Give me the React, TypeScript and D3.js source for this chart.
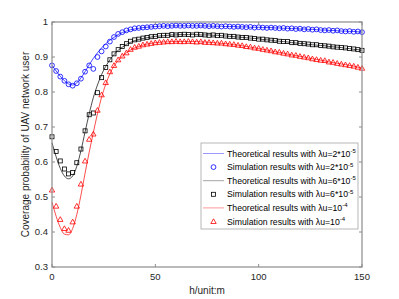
import * as d3 from "d3";

// sample heights (m), one marker every 2 m
const heights = d3.range(0, 151, 2);

// theoretical curves
const theoryBlue = [
  0.876, 0.86, 0.845, 0.832, 0.823, 0.82, 0.826, 0.84, 0.858, 0.878,
  0.896, 0.912, 0.926, 0.938, 0.948, 0.956, 0.964, 0.97, 0.974, 0.978,
  0.98, 0.982, 0.984, 0.985, 0.986, 0.987, 0.988, 0.988, 0.989, 0.989,
  0.989, 0.989, 0.989, 0.989, 0.989, 0.989, 0.989, 0.989, 0.988, 0.988,
  0.988, 0.988, 0.987, 0.987, 0.987, 0.986, 0.986, 0.986, 0.985, 0.985,
  0.985, 0.984, 0.984, 0.984, 0.983, 0.983, 0.982, 0.982, 0.981, 0.981,
  0.98, 0.98, 0.979, 0.979, 0.978, 0.977, 0.977, 0.976, 0.976, 0.975,
  0.974, 0.974, 0.973, 0.973, 0.972, 0.971,
];
const theoryBlack = [
  0.655, 0.615, 0.582, 0.56, 0.552, 0.56, 0.588, 0.632, 0.686, 0.738,
  0.784, 0.82, 0.85, 0.873, 0.892, 0.907, 0.919, 0.928, 0.936, 0.942,
  0.947, 0.95, 0.953, 0.955, 0.957, 0.959, 0.96, 0.961, 0.962, 0.963,
  0.963, 0.964, 0.964, 0.964, 0.964, 0.964, 0.963, 0.963, 0.963, 0.962,
  0.962, 0.961, 0.96, 0.959, 0.958, 0.957, 0.956, 0.955, 0.954, 0.953,
  0.952, 0.95, 0.949, 0.948, 0.946, 0.945, 0.944, 0.943, 0.941, 0.94,
  0.939, 0.938, 0.936, 0.935, 0.934, 0.933, 0.932, 0.93, 0.929, 0.928,
  0.927, 0.925, 0.924, 0.922, 0.921, 0.919,
];
const theoryRed = [
  0.485, 0.445, 0.413, 0.394, 0.392, 0.41, 0.45, 0.505, 0.568, 0.628,
  0.684, 0.738, 0.785, 0.822, 0.852, 0.874, 0.89, 0.902, 0.912, 0.92,
  0.926, 0.93, 0.934, 0.937, 0.939, 0.941, 0.942, 0.943, 0.943, 0.944,
  0.944, 0.944, 0.944, 0.944, 0.944, 0.944, 0.943, 0.943, 0.942, 0.941,
  0.94, 0.939, 0.938, 0.937, 0.935, 0.934, 0.932, 0.93, 0.928, 0.926,
  0.924, 0.922, 0.92, 0.917, 0.915, 0.913, 0.911, 0.908, 0.906, 0.904,
  0.902, 0.9, 0.897, 0.895, 0.893, 0.891, 0.889, 0.886, 0.884, 0.882,
  0.88, 0.878, 0.876, 0.874, 0.871, 0.868,
];

// simulation markers
const simBlue = [
  0.876, 0.86, 0.844, 0.832, 0.822, 0.818, 0.825, 0.838, 0.858, 0.876,
  0.866, 0.9, 0.916, 0.93, 0.944, 0.957, 0.966, 0.971, 0.976, 0.979,
  0.982, 0.983, 0.984, 0.985, 0.986, 0.987, 0.988, 0.989, 0.988, 0.989,
  0.99, 0.989, 0.989, 0.99, 0.989, 0.989, 0.99, 0.989, 0.988, 0.989,
  0.988, 0.987, 0.988, 0.987, 0.986, 0.987, 0.986, 0.985, 0.986, 0.984,
  0.985, 0.984, 0.983, 0.984, 0.983, 0.982, 0.983, 0.981, 0.982, 0.98,
  0.981, 0.979, 0.98, 0.978, 0.979, 0.977, 0.976, 0.977, 0.975, 0.976,
  0.974, 0.973, 0.974, 0.972, 0.973, 0.971,
];
const simBlack = [
  0.672, 0.63, 0.603, 0.58, 0.566, 0.57, 0.598, 0.637, 0.689, 0.735,
  0.74, 0.798, 0.841, 0.87, 0.892, 0.909, 0.921, 0.93, 0.938, 0.945,
  0.949, 0.951, 0.954, 0.956, 0.958, 0.959, 0.961, 0.962, 0.962, 0.964,
  0.963, 0.964, 0.965, 0.964, 0.963, 0.965, 0.964, 0.963, 0.962, 0.963,
  0.961, 0.962, 0.96, 0.959, 0.959, 0.957, 0.956, 0.956, 0.954, 0.953,
  0.951, 0.951, 0.949, 0.948, 0.947, 0.945, 0.944, 0.944, 0.941, 0.941,
  0.939, 0.938, 0.937, 0.935, 0.935, 0.933, 0.932, 0.931, 0.929, 0.928,
  0.927, 0.926, 0.924, 0.923, 0.921, 0.919,
];
const simRed = [
  0.52, 0.474, 0.436, 0.41, 0.405, 0.429, 0.474, 0.537, 0.603, 0.665,
  0.68, 0.748, 0.792, 0.827, 0.858, 0.876, 0.892, 0.903, 0.912, 0.922,
  0.928, 0.931, 0.935, 0.937, 0.939, 0.941, 0.942, 0.943, 0.944, 0.944,
  0.945, 0.944, 0.944, 0.945, 0.944, 0.943, 0.944, 0.942, 0.942, 0.941,
  0.94, 0.94, 0.938, 0.937, 0.936, 0.934, 0.933, 0.93, 0.929, 0.926,
  0.925, 0.922, 0.92, 0.918, 0.915, 0.914, 0.911, 0.909, 0.906, 0.905,
  0.902, 0.9, 0.898, 0.895, 0.893, 0.891, 0.89, 0.886, 0.885, 0.882,
  0.88, 0.878, 0.876, 0.874, 0.871, 0.868,
];

const xTicks = [0, 50, 100, 150];
const yTicks = [0.3, 0.4, 0.5, 0.6, 0.7, 0.8, 0.9, 1];

const legendLabels = [
  { text: "Theoretical results with λu=2*10", sup: "-5" },
  { text: "Simulation results with λu=2*10", sup: "-5" },
  { text: "Theoretical results with λu=6*10", sup: "-5" },
  { text: "Simulation results with λu=6*10", sup: "-5" },
  { text: "Theoretical results with λu=10", sup: "-4" },
  { text: "Simulation results with λu=10", sup: "-4" },
];

const W = 399;
const H = 299;
const m = { left: 52, right: 37, top: 22, bottom: 32 };
const font = "'Liberation Sans', Arial, sans-serif";
const axisColor = "#8c8c8c";
const textColor = "#262626";

type Shape = "circle" | "square" | "triangle";

function Marker({ shape, x, y, color }: { shape: Shape; x: number; y: number; color: string }) {
  if (shape === "circle")
    return <circle cx={x} cy={y} r={2.4} fill="none" stroke={color} strokeWidth={0.8} />;
  if (shape === "square")
    return <rect x={x - 2} y={y - 2} width={4} height={4} fill="none" stroke={color} strokeWidth={0.8} />;
  const s = 2.7;
  return (
    <path
      d={`M${x},${y - s}L${x + s},${y + s * 0.75}L${x - s},${y + s * 0.75}Z`}
      fill="none"
      stroke={color}
      strokeWidth={0.8}
    />
  );
}

export default function App() {
  const x = d3.scaleLinear().domain([0, 150]).range([m.left, W - m.right]);
  const y = d3.scaleLinear().domain([0.3, 1]).range([H - m.bottom, m.top]);
  const line = d3
    .line<number>()
    .x((_, i) => x(heights[i]))
    .y((d) => y(d))
    .curve(d3.curveMonotoneX);

  const series = [
    { theory: theoryBlue, sim: simBlue, color: "#0000ff", legendLine: "#7f7fff", shape: "circle" as Shape },
    { theory: theoryBlack, sim: simBlack, color: "#000000", legendLine: "#8c8c8c", shape: "square" as Shape },
    { theory: theoryRed, sim: simRed, color: "#ff0000", legendLine: "#ff7f7f", shape: "triangle" as Shape },
  ];

  const x0 = m.left;
  const x1 = W - m.right;
  const y0 = H - m.bottom;
  const y1 = m.top;

  const lg = { x: 201, y: 143, w: 157, h: 86, row: 13.6 };

  return (
    <div style={{ position: "absolute", left: 0, top: 0 }}>
      <svg width={W} height={H} style={{ display: "block", background: "#fff" }} fontFamily={font}>
        {/* curves */}
        {series.map((s, k) => (
          <g key={k}>
            <path d={line(s.theory) ?? ""} fill="none" stroke={s.color} strokeWidth={0.7} />
            {s.sim.map((v, i) => (
              <Marker key={i} shape={s.shape} x={x(heights[i])} y={y(v)} color={s.color} />
            ))}
          </g>
        ))}

        {/* axes box */}
        <rect x={x0} y={y1} width={x1 - x0} height={y0 - y1} fill="none" stroke={axisColor} strokeWidth={1.2} />
        {xTicks.map((t) => (
          <g key={t}>
            <line x1={x(t)} x2={x(t)} y1={y0} y2={y0 - 3} stroke={axisColor} />
            <line x1={x(t)} x2={x(t)} y1={y1} y2={y1 + 3} stroke={axisColor} />
            <text x={x(t)} y={y0 + 13} textAnchor="middle" fontSize={9.5} fill={textColor}>
              {t}
            </text>
          </g>
        ))}
        {yTicks.map((t) => (
          <g key={t}>
            <line x1={x0} x2={x0 + 3} y1={y(t)} y2={y(t)} stroke={axisColor} />
            <line x1={x1} x2={x1 - 3} y1={y(t)} y2={y(t)} stroke={axisColor} />
            <text x={x0 - 4} y={y(t) + 3.3} textAnchor="end" fontSize={9.5} fill={textColor}>
              {t === 1 ? "1" : t.toFixed(1)}
            </text>
          </g>
        ))}

        <text x={(x0 + x1) / 2} y={H - 5} textAnchor="middle" fontSize={10} fill={textColor}>
          h/unit:m
        </text>
        <text
          transform={`translate(29,${(y0 + y1) / 2}) rotate(-90)`}
          textAnchor="middle"
          fontSize={10}
          fill={textColor}
        >
          Coverage probability of UAV network user
        </text>

        {/* legend */}
        <rect x={lg.x} y={lg.y} width={lg.w} height={lg.h} fill="#fff" stroke="#a6a6a6" strokeWidth={0.8} />
        {legendLabels.map((l, i) => {
          const cy = lg.y + 10.5 + i * lg.row;
          const s = series[Math.floor(i / 2)];
          return (
            <g key={i}>
              {i % 2 === 0 ? (
                <line x1={lg.x + 2} x2={lg.x + 23} y1={cy} y2={cy} stroke={s.legendLine} strokeWidth={0.8} />
              ) : (
                <Marker shape={s.shape} x={lg.x + 12.5} y={cy} color={s.color} />
              )}
              <text x={lg.x + 26} y={cy + 3} fontSize={8.7} fill="#000">
                {l.text}
                <tspan dy={-3.5} fontSize={6}>
                  {l.sup}
                </tspan>
              </text>
            </g>
          );
        })}
      </svg>
    </div>
  );
}
